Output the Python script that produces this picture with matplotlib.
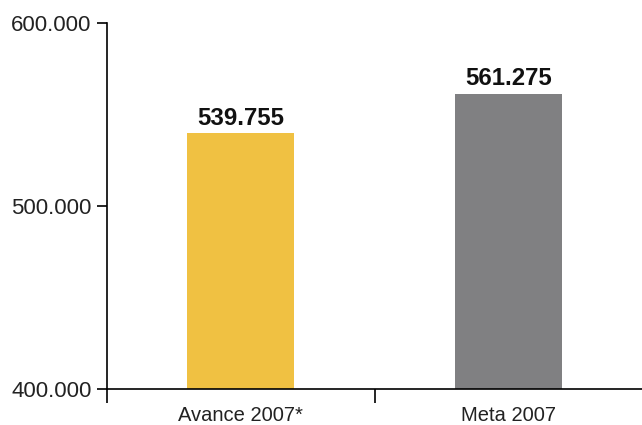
import matplotlib
matplotlib.use("Agg")
import matplotlib.pyplot as plt
from matplotlib.ticker import FixedLocator

categories = ["Avance 2007*", "Meta 2007"]
values = [539755, 561275]
value_labels = ["539.755", "561.275"]
ytick_values = [400000, 500000, 600000]
ytick_labels = ["400.000", "500.000", "600.000"]
colors = ["#F0C142", "#808082"]

plt.rcParams['font.family'] = ['Liberation Sans', 'DejaVu Sans']

fig = plt.figure(figsize=(6.42, 4.25), dpi=100)
ax = fig.add_axes([0.1667, 0.0847, 0.8333, 0.8612])

x = list(range(len(categories)))
bars = ax.bar(x, values, width=0.4, color=colors, zorder=2)
for xi, v, lab in zip(x, values, value_labels):
    ax.text(xi, v + 2000, lab, ha='center', va='bottom', fontsize=17.3, fontweight='bold', color='#111111')

ax.set_xlim(-0.5, len(categories) - 0.5)
ax.set_ylim(400000, 600000)
ax.set_yticks(ytick_values)
ax.set_yticklabels(ytick_labels, fontsize=16, color='#222222')
ax.set_xticks(x)
ax.set_xticklabels(categories, fontsize=14.5, color='#222222')
ax.tick_params(axis='x', which='major', length=0, pad=12)
ax.xaxis.set_minor_locator(FixedLocator([-0.5 + i for i in range(len(categories))]))
ax.tick_params(axis='x', which='minor', length=10, width=1.2, direction='out', color='black')
ax.tick_params(axis='y', which='major', length=7, width=1.2, direction='out', pad=4)

for s in ['top', 'right']:
    ax.spines[s].set_visible(False)
for s in ['left', 'bottom']:
    ax.spines[s].set_linewidth(1.2)

fig.savefig("out.png", dpi=100)
